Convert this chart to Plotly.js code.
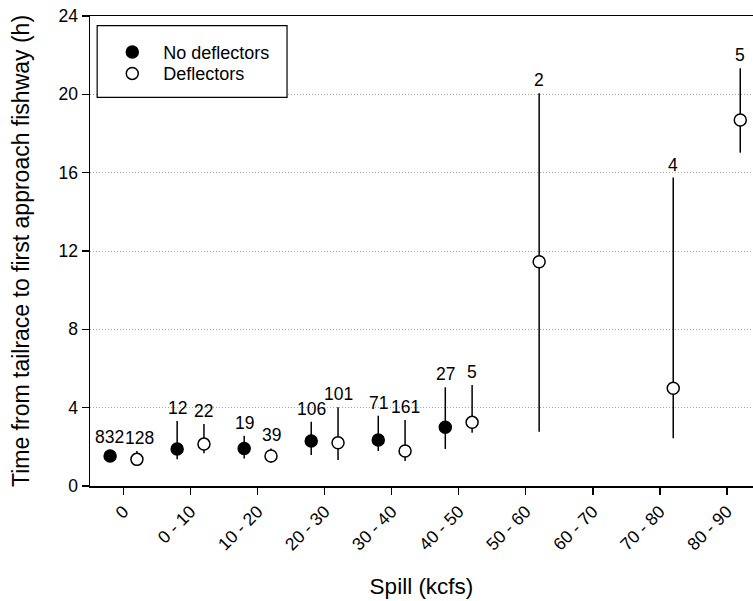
<!DOCTYPE html>
<html>
<head>
<meta charset="utf-8">
<script src="https://cdn.plot.ly/plotly-3.0.1.min.js"></script>
<style>
  html, body { margin: 0; padding: 0; background: #fff; }
  #plot { width: 753px; height: 601px; }
</style>
</head>
<body>
<div id="plot"></div>
<script>
// spill classes (x axis)
const spillLabels = ["0", "0 - 10", "10 - 20", "20 - 30", "30 - 40", "40 - 50", "50 - 60", "60 - 70", "70 - 80", "80 - 90"];

// No deflectors: category index, median time (h), upper / lower bound, n
const noDefCat = [0, 1, 2, 3, 4, 5];
const noDefTime = [1.53, 1.89, 1.92, 2.30, 2.35, 3.00];
const noDefUpper = [1.85, 3.32, 2.57, 3.28, 3.59, 5.04];
const noDefLower = [1.30, 1.36, 1.41, 1.58, 1.79, 1.89];
const noDefN = ["832", "12", "19", "106", "71", "27"];

// Deflectors
const defCat = [0, 1, 2, 3, 4, 5, 6, 8, 9];
const defTime = [1.36, 2.14, 1.53, 2.21, 1.79, 3.25, 11.45, 4.99, 18.69];
const defUpper = [1.79, 3.17, 1.92, 4.02, 3.37, 5.16, 20.05, 15.75, 21.33];
const defLower = [1.10, 1.67, 1.19, 1.33, 1.28, 2.72, 2.77, 2.44, 17.02];
const defN = ["128", "22", "39", "101", "161", "5", "2", "4", "5"];

const shift = 0.2;  // side-by-side offset inside a class
const font = "Liberation Sans, Arial, sans-serif";

function series(cat, time, upper, lower, off) {
    return {
        x: cat.map(c => c + off),
        y: time,
        error_y: {
            type: "data",
            symmetric: false,
            array: upper.map((u, i) => u - time[i]),
            arrayminus: lower.map((l, i) => time[i] - l),
            width: 0,
            thickness: 1.5,
            color: "#000"
        }
    };
}

let noDef = series(noDefCat, noDefTime, noDefUpper, noDefLower, -shift);
noDef.type = "scatter";
noDef.mode = "markers";
noDef.name = "No deflectors";
noDef.legend = "legend";
noDef.marker = { color: "#000", size: 12, line: { color: "#000", width: 1.5 } };

let withDef = series(defCat, defTime, defUpper, defLower, shift);
withDef.type = "scatter";
withDef.mode = "markers";
withDef.name = "Deflectors";
withDef.legend = "legend2";
withDef.marker = { color: "#fff", size: 12, line: { color: "#000", width: 1.5 } };

// sample sizes sit above the upper end of each bar
let notes = [];
noDefCat.forEach((c, i) => notes.push({ x: c - shift, y: noDefUpper[i], text: noDefN[i], xshift: c === 0 ? -1 : 0 }));
defCat.forEach((c, i) => notes.push({ x: c + shift, y: defUpper[i], text: defN[i], xshift: c === 0 ? 3 : 0 }));
notes = notes.map(n => ({
    x: n.x, y: n.y, text: n.text, xref: "x", yref: "y",
    showarrow: false, yanchor: "bottom", yshift: 2, xshift: n.xshift, borderpad: 0,
    font: { family: font, size: 17.5, color: "#000" }
}));

// one legend per row so the rows sit as tight as in the original
const legendStyle = {
    xanchor: "left", yanchor: "top",
    bgcolor: "rgba(0,0,0,0)",
    itemwidth: 52,
    font: { family: font, size: 18, color: "#000" }
};

let layout = {
    width: 753,
    height: 601,
    margin: { l: 89.5, r: 0, t: 16, b: 115 },
    paper_bgcolor: "#fff",
    plot_bgcolor: "#fff",
    font: { family: font, size: 17.5, color: "#000" },
    showlegend: true,
    legend: Object.assign({ x: 0.017, y: 0.962 }, legendStyle),
    legend2: Object.assign({ x: 0.017, y: 0.9166 }, legendStyle),
    xaxis: {
        range: [-0.5, 9.39],
        tickvals: spillLabels.map((s, i) => i),
        ticktext: spillLabels,
        tickangle: -45,
        ticks: "outside", ticklen: 7, tickwidth: 1.5, tickcolor: "#000",
        showline: true, linecolor: "#000", linewidth: 1.5, mirror: true,
        showgrid: false, zeroline: false,
        title: { text: "Spill (kcfs)", font: { family: font, size: 22.5 }, standoff: 25 }
    },
    yaxis: {
        range: [0, 24],
        dtick: 4,
        ticks: "outside", ticklen: 7, tickwidth: 1.5, tickcolor: "#000",
        showline: true, linecolor: "#000", linewidth: 1.5,
        showgrid: true, gridcolor: "#a8a8a8", griddash: "1px,2px", gridwidth: 1,
        zeroline: false,
        title: { text: "Time from tailrace to first approach fishway (h)", font: { family: font, size: 23 }, standoff: 22 }
    },
    shapes: [{
        type: "rect", xref: "paper", yref: "paper",
        x0: 0.0108, x1: 0.2972, y0: 0.827, y1: 0.9794,
        line: { color: "#000", width: 1.2 },
        fillcolor: "#fff", layer: "above"
    }],
    annotations: notes
};

Plotly.newPlot("plot", [noDef, withDef], layout, { displayModeBar: false, staticPlot: true });
</script>
</body>
</html>
